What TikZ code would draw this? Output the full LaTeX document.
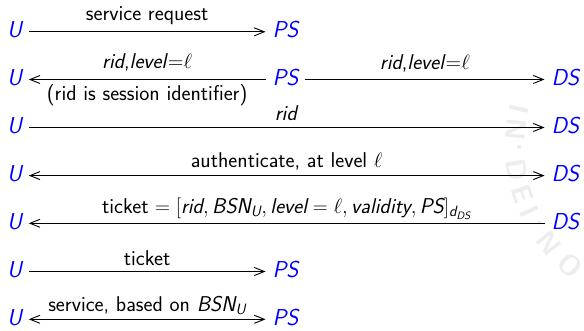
\documentclass[tikz,border=0pt]{standalone}
\usepackage{amsmath}
\usetikzlibrary{arrows.meta,calc}
\newcommand{\mvar}[1]{\textit{#1}}
\begin{document}
\begin{tikzpicture}[x=1pt,y=-1pt,
  every node/.style={font=\sffamily\fontsize{21.4}{25}\selectfont},
  party/.style={text=blue, font=\sffamily\itshape\fontsize{23}{27}\selectfont,
    inner xsep=0pt, inner ysep=0pt, outer xsep=7pt, outer ysep=0pt,
    text height=12pt, text depth=0pt, anchor=west},
  msg/.style={draw=black, line width=0.9pt},
  fwd/.style={msg, -{Straight Barb[length=10pt,width=8pt]}},
  back/.style={msg, {Straight Barb[length=10pt,width=8pt]}-},
  both/.style={msg, {Straight Barb[length=10pt,width=8pt]}-{Straight Barb[length=10pt,width=8pt]}},
  lbl/.style={midway, anchor=base, text=black, inner sep=0pt},
  wmark/.style={text=black!7, font=\sffamily\bfseries\fontsize{28}{28}\selectfont, inner sep=0pt}
]
\useasboundingbox (0,0) rectangle (584,331);

% faint seal lettering in the background
\coordinate (seal) at (675,145);
\foreach \ch/\a in {I/193, N/185.5, {\textperiodcentered}/179, D/171, E/162,
                    I/155.5, {\textperiodcentered}/150, N/142, O/131}{
  \path (seal) ++(\a:160) node[wmark, rotate=90-\a] {\ch};
}

% parties, one row per message
\node[party] (u1) at (0,31.8)  {U};
\node[party] (p1) at (265.5,31.8) {PS};

\node[party] (u2) at (0,79.5)  {U};
\node[party] (p2) at (265.5,79.5) {PS};
\node[party] (d2) at (544.5,79.5) {DS};

\node[party] (u3) at (0,127.5) {U};
\node[party] (d3) at (544.5,127.5) {DS};

\node[party] (u4) at (0,175.6) {U};
\node[party] (d4) at (544.5,175.6) {DS};

\node[party] (u5) at (0,223.3) {U};
\node[party] (d5) at (544.5,223.3) {DS};

\node[party] (u6) at (0,271.5) {U};
\node[party] (p6) at (265.5,271.5) {PS};

\node[party] (u7) at (0,319.3) {U};
\node[party] (p7) at (265.5,319.3) {PS};

% messages
\draw[fwd] (u1) -- (p1) node[lbl, yshift=11pt] {service request};

\draw[back] (u2) -- (p2)
  node[lbl, yshift=10.5pt] {\mvar{rid},\mvar{level}{=}$\ell$}
  node[lbl, yshift=-20.7pt] {(rid is session identifier)};
\draw[fwd] (p2) -- (d2) node[lbl, yshift=10pt] {\mvar{rid},\mvar{level}{=}$\ell$};

\draw[fwd] (u3) -- (d3) node[lbl, yshift=7.3pt] {\mvar{rid}};

\draw[both] (u4) -- (d4) node[lbl, yshift=8.3pt] {authenticate, at level $\ell$};

\draw[back] (u5) -- (d5) node[lbl, yshift=9.7pt]
  {ticket $=[\mvar{rid},\mvar{BSN}_{\mvar{U}},\mvar{level}=\ell,\mvar{validity},\mvar{PS}]_{\mvar{d}_{\mvar{DS}}}$};

\draw[fwd] (u6) -- (p6) node[lbl, yshift=6.3pt] {ticket};

\draw[both] (u7) -- (p7) node[lbl, yshift=7.6pt] {service, based on $\mvar{BSN}_{\mvar{U}}$};
\end{tikzpicture}
\end{document}
